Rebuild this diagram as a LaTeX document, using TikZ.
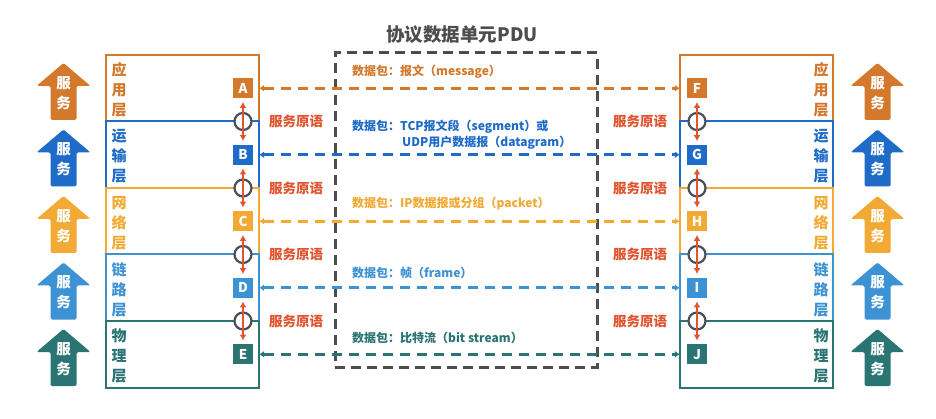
\documentclass[tikz,border=0pt]{standalone}
\usepackage{fontspec}
\setmainfont{Noto Sans CJK SC}
\usetikzlibrary{arrows.meta}
\definecolor{appc}{HTML}{D4782C}
\definecolor{trac}{HTML}{1E6CC8}
\definecolor{netc}{HTML}{F2AA35}
\definecolor{linc}{HTML}{3C92D3}
\definecolor{phyc}{HTML}{2B7474}
\definecolor{redc}{HTML}{E05530}
\definecolor{grayc}{HTML}{4D4D4D}
\definecolor{ringc}{HTML}{4A505A}
\begin{document}
\begin{tikzpicture}[x=1pt,y=-1pt,
  layerbox/.style={draw=#1, line width=2pt, minimum width=153pt, minimum height=66.5pt, inner sep=0pt},
  layertext/.style={text=#1, font=\bfseries\fontsize{15}{20}\selectfont, align=center, inner sep=0pt},
  letterbox/.style={fill=#1, text=white, minimum size=20pt, inner sep=0pt, font=\bfseries\fontsize{13.5}{13.5}\selectfont},
  pdutext/.style={text=#1, anchor=west, inner sep=0pt, font=\bfseries\fontsize{12}{14}\selectfont},
  pduline/.style={draw=#1, line width=3pt, dash pattern=on 10pt off 7pt, {Latex[length=5pt,width=7pt]}-{Latex[length=5pt,width=7pt]}, shorten <=6pt, shorten >=7pt},
  prim/.style={text=redc, font=\bfseries\fontsize{13.5}{14}\selectfont, inner sep=0pt},
  ring/.style={circle, draw=ringc, line width=2.2pt, fill=white, minimum size=17pt, inner sep=0pt},
  primarrow/.style={draw=redc, line width=1.6pt, {Latex[length=6pt,width=7pt]}-{Latex[length=6pt,width=7pt]}, shorten <=3.5pt, shorten >=3.5pt},
  svctext/.style={text=white, font=\bfseries\fontsize{14.5}{20}\selectfont, align=center, inner sep=0pt},
]
\useasboundingbox (0,0) rectangle (936,419);
\fill[white] (0,0) rectangle (936,419);

% service arrows
\foreach \top/\c [count=\i] in {55/appc,121.5/trac,188/netc,254.5/linc,321/phyc} {
  \foreach \cx/\s in {63.5/L,877.5/R} {
    \fill[\c, rounded corners=1.5pt] (\cx,\top+8) -- (\cx+27,\top+31) -- (\cx+13,\top+31) -- (\cx+13,\top+65) -- (\cx-13,\top+65) -- (\cx-13,\top+31) -- (\cx-27,\top+31) -- cycle;
    \node[svctext] (svc\s\i) at (\cx,\top+38) {服\\务};
  }
}

% PDU box and title
\node[draw=grayc, line width=3pt, dash pattern=on 10pt off 6pt, minimum width=262pt, minimum height=314pt, inner sep=0pt] (pdu) at (466,210) {};
\node[text=grayc, font=\bfseries\fontsize{18.5}{18.5}\selectfont, inner sep=0pt] (title) at (462,35) {协议数据单元PDU};

% layer boxes
\node[layerbox=appc] (LA) at (182.5,88.25) {};
\node[layerbox=trac] (LB) at (182.5,154.75) {};
\node[layerbox=netc] (LC) at (182.5,221.25) {};
\node[layerbox=linc] (LD) at (182.5,287.75) {};
\node[layerbox=phyc] (LE) at (182.5,354.25) {};
\node[layerbox=appc] (RA) at (756.5,88.25) {};
\node[layerbox=trac] (RB) at (756.5,154.75) {};
\node[layerbox=netc] (RC) at (756.5,221.25) {};
\node[layerbox=linc] (RD) at (756.5,287.75) {};
\node[layerbox=phyc] (RE) at (756.5,354.25) {};

% layer names
\node[layertext=appc] (tLA) at (119,90) {应\\用\\层};
\node[layertext=trac] (tLB) at (119,156.5) {运\\输\\层};
\node[layertext=netc] (tLC) at (119,223) {网\\络\\层};
\node[layertext=linc] (tLD) at (119,289.5) {链\\路\\层};
\node[layertext=phyc] (tLE) at (119,356) {物\\理\\层};
\node[layertext=appc] (tRA) at (821,90) {应\\用\\层};
\node[layertext=trac] (tRB) at (821,156.5) {运\\输\\层};
\node[layertext=netc] (tRC) at (821,223) {网\\络\\层};
\node[layertext=linc] (tRD) at (821,289.5) {链\\路\\层};
\node[layertext=phyc] (tRE) at (821,356) {物\\理\\层};

% letter boxes
\node[letterbox=appc] (A) at (243,88.25) {A};
\node[letterbox=trac] (B) at (243,154.75) {B};
\node[letterbox=netc] (C) at (243,221.25) {C};
\node[letterbox=linc] (D) at (243,287.75) {D};
\node[letterbox=phyc] (E) at (243,354.25) {E};
\node[letterbox=appc] (F) at (697,88.25) {F};
\node[letterbox=trac] (G) at (697,154.75) {G};
\node[letterbox=netc] (H) at (697,221.25) {H};
\node[letterbox=linc] (I) at (697,287.75) {I};
\node[letterbox=phyc] (J) at (697,354.25) {J};

% rings
\node[ring] (rl1) at (243,121.5) {};
\node[ring] (rl2) at (243,188) {};
\node[ring] (rl3) at (243,254.5) {};
\node[ring] (rl4) at (243,321) {};
\node[ring] (rr1) at (697,121.5) {};
\node[ring] (rr2) at (697,188) {};
\node[ring] (rr3) at (697,254.5) {};
\node[ring] (rr4) at (697,321) {};

% primitive arrows
\draw[primarrow] (A.south) -- (B.north);
\draw[primarrow] (B.south) -- (C.north);
\draw[primarrow] (C.south) -- (D.north);
\draw[primarrow] (D.south) -- (E.north);
\draw[primarrow] (F.south) -- (G.north);
\draw[primarrow] (G.south) -- (H.north);
\draw[primarrow] (H.south) -- (I.north);
\draw[primarrow] (I.south) -- (J.north);

% primitive labels
\foreach \y [count=\i] in {121.5,188,254.5,321} {
  \node[prim] (pl\i) at (296,\y) {服务原语};
  \node[prim] (pr\i) at (640,\y) {服务原语};
}

% PDU lines
\draw[pduline=appc] (A.east) -- (F.west);
\draw[pduline=trac] (B.east) -- (G.west);
\draw[pduline=netc] (C.east) -- (H.west);
\draw[pduline=linc] (D.east) -- (I.west);
\draw[pduline=phyc] (E.east) -- (J.west);

% PDU texts
\node[pdutext=appc] (m1) at (352,72) {数据包：报文（message）};
\node[pdutext=trac] (m2) at (352,127) {数据包：TCP报文段（segment）或};
\node[pdutext=trac] (m2b) at (402,143) {UDP用户数据报（datagram）};
\node[pdutext=netc] (m3) at (352,204) {数据包：IP数据报或分组（packet）};
\node[pdutext=linc] (m4) at (352,273) {数据包：帧（frame）};
\node[pdutext=phyc] (m5) at (352,338) {数据包：比特流（bit stream）};
\end{tikzpicture}
\end{document}
